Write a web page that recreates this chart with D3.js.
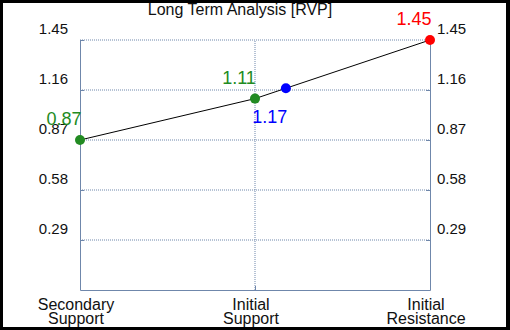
<html>
<head>
<meta charset="utf-8">
<script src="https://d3js.org/d3.v7.min.js"></script>
<style>
  body { margin: 0; background: black; }
  text { font-family: "Liberation Sans", Arial, sans-serif; }
</style>
</head>
<body>
<div id="chart"></div>
<script>
  // data
  const categories = [["Secondary", "Support"], ["Initial", "Support"], ["Initial", "Resistance"]];
  const levels = [0.87, 1.11, 1.45];
  const current = 1.17;
  const yTicks = [0.29, 0.58, 0.87, 1.16, 1.45];
  const title = "Long Term Analysis [RVP]";

  const width = 510, height = 330;
  const levelColors = ["#228b22", "#228b22", "#ff0000"];
  const axisColor = "#6f87ab";

  const svg = d3.select("#chart").append("svg")
    .attr("width", width)
    .attr("height", height);

  svg.append("rect").attr("width", width).attr("height", height).attr("fill", "black");
  svg.append("rect").attr("x", 3).attr("y", 3).attr("width", 503).attr("height", 324).attr("fill", "white");

  const x = d3.scaleLinear().domain([0, categories.length - 1]).range([80, 430]);
  const y = d3.scaleLinear().domain([0, 1.45]).range([290, 40]);

  // gridlines
  svg.append("g").selectAll("line").data(yTicks).join("line")
    .attr("x1", x(0)).attr("x2", x(2))
    .attr("y1", d => y(d)).attr("y2", d => y(d))
    .attr("stroke", axisColor).attr("stroke-dasharray", "1,1");
  svg.append("line")
    .attr("x1", x(1)).attr("x2", x(1))
    .attr("y1", y(0)).attr("y2", y(1.45))
    .attr("stroke", axisColor).attr("stroke-dasharray", "1,1");

  function styleAxis(g) {
    g.select(".domain").attr("stroke", axisColor);
    g.selectAll(".tick line").attr("stroke", axisColor);
    g.selectAll(".tick text").attr("fill", "#111").attr("font-size", "15px")
      .attr("font-family", "Liberation Sans, Arial, sans-serif")
      .attr("y", -7).attr("dy", 0);
  }

  svg.append("g").attr("transform", "translate(" + x(0) + ",0)")
    .call(d3.axisLeft(y).tickValues(yTicks).tickSize(-4).tickSizeOuter(0).tickPadding(12).tickFormat(d3.format(".2f")))
    .call(styleAxis);
  svg.append("g").attr("transform", "translate(" + x(2) + ",0)")
    .call(d3.axisRight(y).tickValues(yTicks).tickSize(-4).tickSizeOuter(0).tickPadding(7).tickFormat(d3.format(".2f")))
    .call(styleAxis);
  const xAxis = svg.append("g").attr("transform", "translate(0," + y(0) + ")")
    .call(d3.axisBottom(x).tickValues([1]).tickSize(-4).tickSizeOuter(0).tickFormat(""));
  xAxis.select(".domain").attr("stroke", axisColor);
  xAxis.selectAll(".tick line").attr("stroke", axisColor);

  // category labels
  const catLabels = svg.append("g").selectAll("text").data(categories).join("text")
    .attr("text-anchor", "middle")
    .attr("font-size", "16px")
    .attr("fill", "#111");
  catLabels.selectAll("tspan").data((d, i) => d.map(t => ({ t, i }))).join("tspan")
    .attr("x", d => x(d.i) - 4)
    .attr("y", (d, j) => 310 + j * 14)
    .text(d => d.t);

  // title
  svg.append("text").attr("x", 240).attr("y", 15)
    .attr("text-anchor", "middle").attr("font-size", "16px").attr("fill", "#111")
    .text(title);

  // line through levels
  const line = d3.line().x((d, i) => x(i)).y(d => y(d));
  svg.append("path").datum(levels).attr("d", line)
    .attr("fill", "none").attr("stroke", "black").attr("stroke-width", 1);

  // level points and labels
  svg.append("g").selectAll("circle").data(levels).join("circle")
    .attr("cx", (d, i) => x(i)).attr("cy", d => y(d)).attr("r", 5)
    .attr("fill", (d, i) => levelColors[i]);
  svg.append("g").selectAll("text").data(levels).join("text")
    .attr("x", (d, i) => x(i) - 16).attr("y", d => y(d) - 15)
    .attr("text-anchor", "middle").attr("font-size", "18px")
    .attr("fill", (d, i) => levelColors[i])
    .text(d => d.toFixed(2));

  // current price, placed on the segment between support and resistance
  const cx = 1 + (current - levels[1]) / (levels[2] - levels[1]);
  svg.append("circle").attr("cx", x(cx)).attr("cy", y(current)).attr("r", 5).attr("fill", "#0000ff");
  svg.append("text").attr("x", x(cx) - 16).attr("y", y(current) + 35)
    .attr("text-anchor", "middle").attr("font-size", "18px").attr("fill", "#0000ff")
    .text(current.toFixed(2));
</script>
</body>
</html>
